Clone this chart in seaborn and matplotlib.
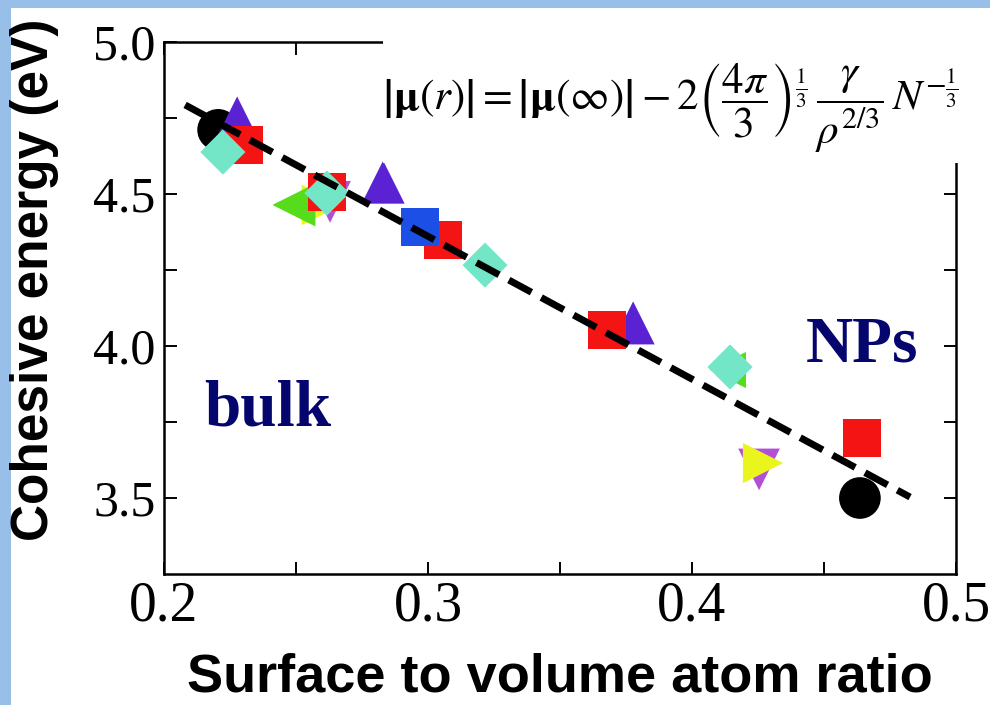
import matplotlib
matplotlib.use("Agg")
import matplotlib.pyplot as plt
from matplotlib.patches import Rectangle
from matplotlib.ticker import FixedLocator
import seaborn as sns
import pandas as pd

# ---------------- data ----------------
circle_x = [0.2205, 0.4636]
circle_y = [4.711, 3.500]
tri_down_x = [0.2629, 0.4254]
tri_down_y = [4.474, 3.594]
tri_right_x = [0.2598, 0.4269]
tri_right_y = [4.464, 3.615]
tri_left_x = [0.2492, 0.4136]
tri_left_y = [4.464, 3.921]
tri_up_x = [0.2277, 0.2830, 0.3777]
tri_up_y = [4.750, 4.539, 4.076]
sq_red_x = [0.2303, 0.2617, 0.3057, 0.3678, 0.4644]
sq_red_y = [4.661, 4.507, 4.349, 4.053, 3.697]
sq_blue_x = [0.2970]
sq_blue_y = [4.391]
diamond_x = [0.2223, 0.2617, 0.3216, 0.4144]
diamond_y = [4.638, 4.503, 4.266, 3.931]

fit_x = [0.208, 0.4826]
fit_y = [4.793, 3.503]

x_ticks = [0.2, 0.3, 0.4, 0.5]
x_tick_labels = ["0.2", "0.3", "0.4", "0.5"]
y_ticks = [3.5, 4.0, 4.5, 5.0]
y_tick_labels = ["3.5", "4.0", "4.5", "5.0"]

# ---------------- styling ----------------
sns.set_style("ticks")
plt.rcParams["font.family"] = ["Liberation Serif", "DejaVu Serif"]
plt.rcParams["mathtext.fontset"] = "stix"
for k in ["text.color", "axes.labelcolor", "xtick.color", "ytick.color"]:
    plt.rcParams[k] = "black"

fig = plt.figure(figsize=(9.9, 7.05), dpi=100, facecolor="#97bfe8")
# white slide panel
fig.patches.append(Rectangle((11 / 990, 0), 1, 1 - 8 / 705, transform=fig.transFigure,
                             facecolor="white", edgecolor="none", zorder=-5))

ax = fig.add_axes([164 / 990, 1 - 574 / 705, (956 - 164) / 990, (574 - 42) / 705])
ax.set_facecolor("white")

series = [
    (circle_x, circle_y, "o", "black", [30, 30]),
    (tri_down_x, tri_down_y, "v", "#b24fd6", [30, 30]),
    (tri_right_x, tri_right_y, ">", "#e9f51c", [29, 29]),
    (tri_left_x, tri_left_y, "<", "#56dc1a", [31, 26]),
    (tri_up_x, tri_up_y, "^", "#5a22d2", [31, 31, 31]),
    (sq_red_x, sq_red_y, "s", "#f41414", [27] * 5),
    (sq_blue_x, sq_blue_y, "s", "#1c4fe6", [27]),
    (diamond_x, diamond_y, "D", "#74e6c8", [23] * 4),
]
for i, (xs, ys, m, c, ms) in enumerate(series):
    df = pd.DataFrame({"x": xs, "y": ys})
    sns.scatterplot(data=df, x="x", y="y", marker=m, color=c, s=[v ** 2 for v in ms],
                    linewidth=0, ax=ax, zorder=3 + i * 0.01)

fit_df = pd.DataFrame({"x": fit_x, "y": fit_y})
sns.lineplot(data=fit_df, x="x", y="y", color="black", lw=5.0, ax=ax,
             dashes=False, zorder=4)
ax.lines[-1].set_dashes([3.7, 1.6])
ax.lines[-1].set_dash_capstyle("butt")

ax.set_xlim(0.2, 0.5)
ax.set_ylim(3.25, 5.0)
ax.xaxis.set_major_locator(FixedLocator(x_ticks))
ax.set_xticklabels(x_tick_labels)
ax.xaxis.set_minor_locator(FixedLocator([0.25, 0.35, 0.45]))
ax.yaxis.set_major_locator(FixedLocator(y_ticks))
ax.set_yticklabels(y_tick_labels)
ax.yaxis.set_minor_locator(FixedLocator([3.75, 4.25, 4.75]))

for sp in ax.spines.values():
    sp.set_visible(True)
    sp.set_linewidth(1.8)
    sp.set_color("black")

ax.tick_params(which="both", direction="in", top=True, right=True,
               length=9, width=1.4, color="black")
ax.tick_params(axis="x", which="major", labelsize=40, pad=5)
ax.tick_params(axis="y", which="major", labelsize=36, pad=6)

ax.set_xlabel("Surface to volume atom ratio", fontsize=39, fontweight="bold",
              family=["Liberation Sans", "DejaVu Sans"], labelpad=14)
ax.set_ylabel("")
fig.text(35 / 990, 1 - 280 / 705, "Cohesive energy (eV)", rotation=90,
         ha="center", va="center", fontsize=37, fontweight="bold",
         family=["Liberation Sans", "DejaVu Sans"])

# white patch covering top-right of frame (equation area)
y0 = (574 - 163) / 532
x0 = (383 - 164) / 792
ax.add_patch(Rectangle((x0, y0), (990 - 164) / 792 - x0, (574 - 8) / 532 - y0,
                       transform=ax.transAxes, facecolor="white", edgecolor="none",
                       clip_on=False, zorder=6))

eq = (r"$\left|\mathbf{\mu}\left(r\right)\right|=\left|\mathbf{\mu}\left(\infty\right)\right|"
      r"-2\left(\dfrac{4\pi}{3}\right)^{\frac{1}{3}}\,\dfrac{\gamma}{\rho^{2/3}}\,N^{-\frac{1}{3}}$")
fig.text(670 / 990, 1 - 108 / 705, eq, ha="center", va="center", fontsize=31, zorder=10)

ax.text(0.2393, 3.79, "bulk", color="#05056e", fontsize=47, fontweight="bold",
        ha="center", va="center", zorder=7)
ax.text(0.4645, 4.002, "NPs", color="#05056e", fontsize=47, fontweight="bold",
        ha="center", va="center", zorder=7)

fig.savefig("out.png", dpi=100, facecolor=fig.get_facecolor())
